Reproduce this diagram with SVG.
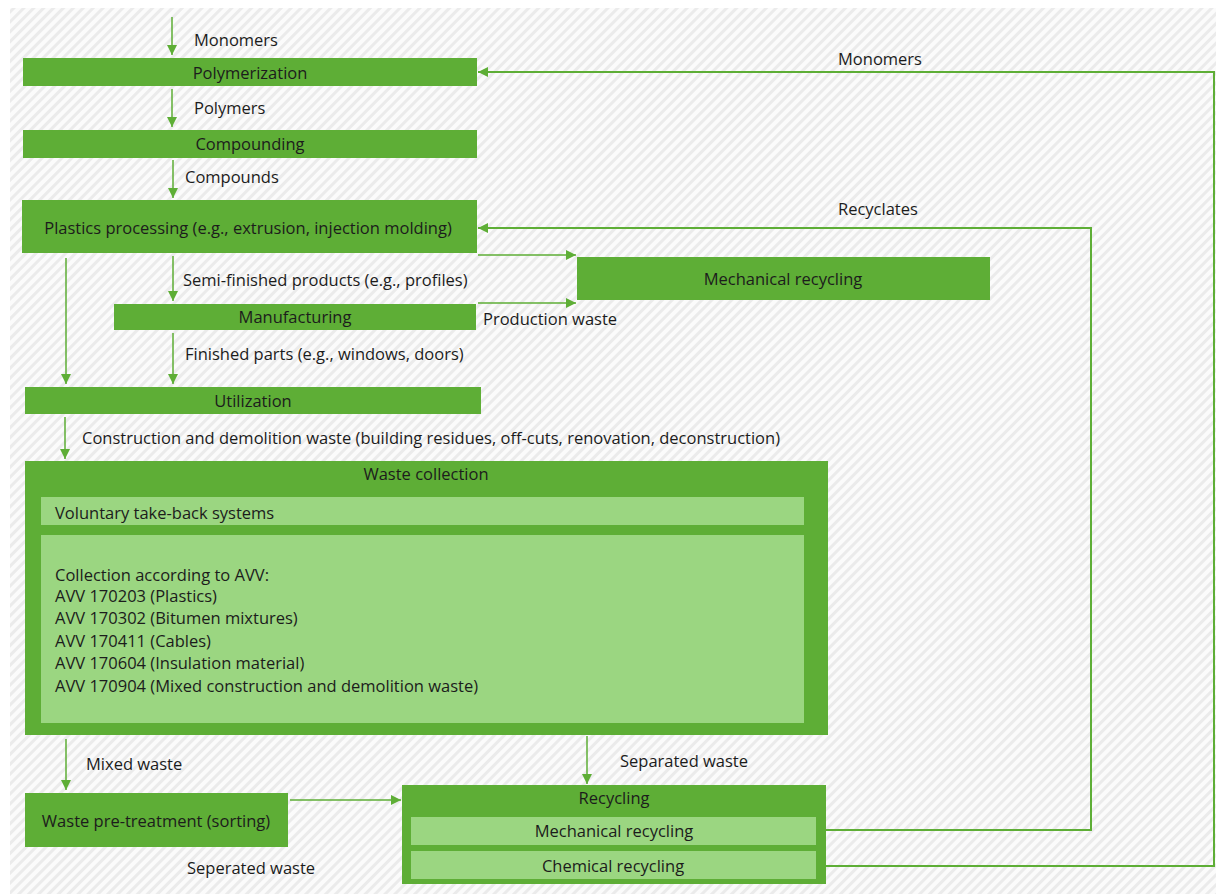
<svg xmlns="http://www.w3.org/2000/svg" width="1216" height="894" viewBox="0 0 1216 894">
<defs>
<pattern id="hatch" width="7" height="7" patternUnits="userSpaceOnUse" patternTransform="rotate(45)">
<rect width="7" height="7" fill="#fbfbfb"/>
<rect width="3" height="7" fill="#ebebeb"/>
</pattern>
<marker id="arr" viewBox="0 0 10 10" refX="10" refY="5" markerWidth="10" markerHeight="10" markerUnits="userSpaceOnUse" orient="auto">
<path d="M0,0 L10,5 L0,10 Z" fill="#5eae36"/>
</marker>
<style>
.t{font-family:"Open Sans","Liberation Sans",sans-serif;font-size:16.5px;fill:#1c1c1c;dominant-baseline:central}
.c{text-anchor:middle}
.dk{fill:#5eae36}
.lt{fill:#9bd681}
.ln{fill:none;stroke:#5eae36;stroke-width:1.5}
.lw{fill:none;stroke:#5eae36;stroke-width:2}
</style>
</defs>
<rect x="0" y="0" width="1216" height="894" fill="#ffffff"/>
<rect x="10" y="8" width="1206" height="886" fill="url(#hatch)"/>

<g id="connectors">
<path class="ln" d="M172,17 V55" marker-end="url(#arr)"/>
<path class="ln" d="M172,89 V127" marker-end="url(#arr)"/>
<path class="ln" d="M173,160 V198" marker-end="url(#arr)"/>
<path class="ln" d="M66,258 V384" marker-end="url(#arr)"/>
<path class="ln" d="M173,256 V301" marker-end="url(#arr)"/>
<path class="ln" d="M478,255 H576" marker-end="url(#arr)"/>
<path class="ln" d="M478,303 H576" marker-end="url(#arr)"/>
<path class="ln" d="M173,333 V384" marker-end="url(#arr)"/>
<path class="ln" d="M65,417 V459" marker-end="url(#arr)"/>
<path class="ln" d="M66,739 V790" marker-end="url(#arr)"/>
<path class="ln" d="M290,800 H401" marker-end="url(#arr)"/>
<path class="ln" d="M587,736 V784" marker-end="url(#arr)"/>
<path class="lw" d="M826,830 H1091 V228 H478" marker-end="url(#arr)"/>
<path class="lw" d="M826,866 H1214 V72 H478" marker-end="url(#arr)"/>
<text class="t" x="194" y="39">Monomers</text>
<text class="t" x="194" y="107">Polymers</text>
<text class="t" x="185" y="176">Compounds</text>
<text class="t" x="183" y="279">Semi-finished products (e.g., profiles)</text>
<text class="t" x="483" y="318">Production waste</text>
<text class="t" x="185" y="353">Finished parts (e.g., windows, doors)</text>
<text class="t" x="82" y="437">Construction and demolition waste (building residues, off-cuts, renovation, deconstruction)</text>
<text class="t" x="86" y="763">Mixed waste</text>
<text class="t" x="620" y="760">Separated waste</text>
<text class="t" x="187" y="867">Seperated waste</text>
<text class="t" x="838" y="58">Monomers</text>
<text class="t" x="838" y="208">Recyclates</text>
</g>

<g id="polymerization">
<rect class="dk" x="23" y="58" width="454" height="28"/>
<text class="t c" x="250" y="72">Polymerization</text>
</g>
<g id="compounding">
<rect class="dk" x="23" y="130" width="454" height="28"/>
<text class="t c" x="250" y="143">Compounding</text>
</g>
<g id="plastics-processing">
<rect class="dk" x="22" y="200" width="455" height="53"/>
<text class="t c" x="248" y="227">Plastics processing (e.g., extrusion, injection molding)</text>
</g>
<g id="mechanical-recycling-top">
<rect class="dk" x="577" y="257" width="413" height="43"/>
<text class="t c" x="783" y="278">Mechanical recycling</text>
</g>
<g id="manufacturing">
<rect class="dk" x="114" y="304" width="362" height="26"/>
<text class="t c" x="295" y="316">Manufacturing</text>
</g>
<g id="utilization">
<rect class="dk" x="25" y="387" width="456" height="27"/>
<text class="t c" x="253" y="400">Utilization</text>
</g>
<g id="waste-collection">
<rect class="dk" x="25" y="461" width="803" height="274"/>
<text class="t c" x="426" y="473">Waste collection</text>
<rect class="lt" x="41" y="497" width="763" height="28"/>
<text class="t" x="55" y="512">Voluntary take-back systems</text>
<rect class="lt" x="41" y="535" width="763" height="188"/>
<text class="t" x="55" y="574">Collection according to AVV:</text>
<text class="t" x="55" y="595">AVV 170203 (Plastics)</text>
<text class="t" x="55" y="617">AVV 170302 (Bitumen mixtures)</text>
<text class="t" x="55" y="640">AVV 170411 (Cables)</text>
<text class="t" x="55" y="662">AVV 170604 (Insulation material)</text>
<text class="t" x="55" y="685">AVV 170904 (Mixed construction and demolition waste)</text>
</g>
<g id="waste-pretreatment">
<rect class="dk" x="25" y="793" width="263" height="54"/>
<text class="t c" x="156" y="820">Waste pre-treatment (sorting)</text>
</g>
<g id="recycling">
<rect class="dk" x="402" y="785" width="424" height="99"/>
<text class="t c" x="614" y="797">Recycling</text>
<rect class="lt" x="411" y="817" width="405" height="28"/>
<text class="t c" x="614" y="830">Mechanical recycling</text>
<rect class="lt" x="411" y="851" width="405" height="28"/>
<text class="t c" x="613" y="865">Chemical recycling</text>
</g>
</svg>
